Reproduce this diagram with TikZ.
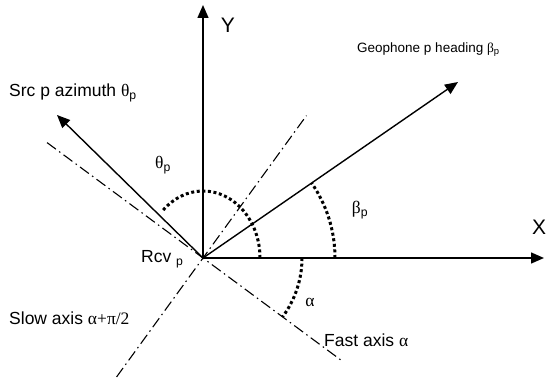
\documentclass[tikz,border=0pt]{standalone}
\usepackage{fontspec}
\setmainfont{Liberation Sans}
\newfontfamily\grk{Liberation Serif}
\newcommand\gk[1]{{\grk #1}}
\usetikzlibrary{arrows.meta,calc}
\begin{document}
\begin{tikzpicture}[x=1pt,y=1pt,
  axisline/.style={line width=1.4pt,-{Triangle[length=13pt,width=11pt]}},
  dashdot/.style={line width=1.1pt,dash pattern=on 11pt off 4pt on 1.5pt off 4pt},
  dotarc/.style={line width=3pt,dash pattern=on 3pt off 2.6pt},
  lbl/.style={inner sep=0pt,font=\fontsize{17.5}{20}\selectfont},
  biglbl/.style={inner sep=0pt,font=\fontsize{21}{24}\selectfont},
  smalllbl/.style={inner sep=0pt,font=\fontsize{13.5}{16}\selectfont}]
\useasboundingbox (0,0) rectangle (546,381);
% origin and end points
\coordinate (O) at (203,123);
\coordinate (Ytip) at (203,376);
\coordinate (Xtip) at (544,123);
\coordinate (Gtip) at (458,299);
\coordinate (Stip) at (57,266);
\coordinate (FastA) at ($(O)+(143.5:194)$);
\coordinate (FastB) at ($(O)+(-36.5:174)$);
\coordinate (SlowA) at ($(O)+(54:176)$);
\coordinate (SlowB) at ($(O)+(234:147)$);
% dash-dot axes
\draw[dashdot] (FastA) -- (FastB);
\draw[dashdot] (SlowB) -- (SlowA);
% axes and arrows
\draw[axisline] (O) -- (Ytip);
\draw[axisline] (O) -- (Xtip);
\draw[axisline] (O) -- (Gtip);
\draw[axisline] (O) -- (Stip);
% dotted arcs
\draw[dotarc] ($(O)+(57,0)$) arc[start angle=0,end angle=135,x radius=57,y radius=67];
\draw[dotarc] ($(O)+(132,0)$) arc[start angle=0,end angle=34.6,radius=132];
\draw[dotarc] ($(O)+(99,0)$) arc[start angle=0,end angle=-36.5,radius=99];
% labels
\node[biglbl] (ly) at (228,356) {Y};
\node[biglbl] (lx) at (539,154) {X};
\node[smalllbl,anchor=west] (lg) at (357,331) {Geophone p heading \gk{β}\textsubscript{p}};
\node[lbl,anchor=west] (ls) at (9,288) {Src p azimuth \gk{θ}\textsubscript{p}};
\node[lbl] (lt) at (163,216) {\gk{θ}\textsubscript{p}};
\node[lbl] (lb) at (360,171) {\gk{β}\textsubscript{p}};
\node[lbl] (la) at (310,79) {\gk{α}};
\node[lbl,anchor=west] (lr) at (141,122) {Rcv \textsubscript{p}};
\node[lbl,anchor=west] (lsl) at (9,63) {Slow axis \gk{α+π/2}};
\node[lbl,anchor=west] (lf) at (324,41) {Fast axis \gk{α}};
\end{tikzpicture}
\end{document}
